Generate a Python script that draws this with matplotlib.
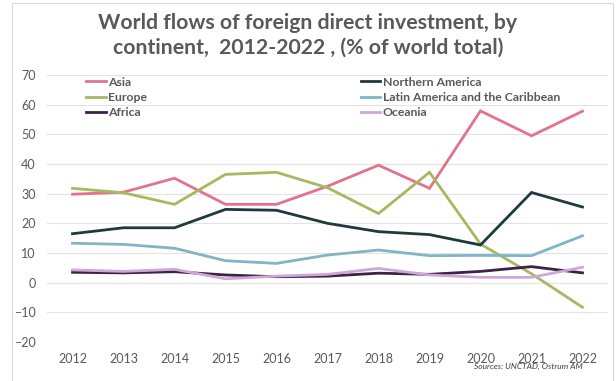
import matplotlib
matplotlib.use("Agg")
import matplotlib.pyplot as plt
from matplotlib.patches import Rectangle

plt.rcParams['font.family'] = ['Lato', 'DejaVu Sans']

years = list(range(2012, 2023))
asia = [29.8, 30.5, 35.2, 26.4, 26.4, 32.5, 39.6, 31.8, 57.9, 49.5, 57.8]
europe = [31.8, 30.3, 26.4, 36.5, 37.2, 32.0, 23.3, 37.2, 13.0, 3.0, -8.3]
africa = [3.5, 3.3, 3.7, 2.6, 2.0, 2.2, 3.2, 2.8, 3.8, 5.4, 3.3]
north_america = [16.5, 18.5, 18.5, 24.7, 24.4, 20.0, 17.2, 16.2, 12.7, 30.4, 25.5]
latin_america = [13.3, 12.9, 11.6, 7.4, 6.5, 9.3, 11.0, 9.1, 9.2, 9.1, 15.8]
oceania = [4.3, 3.8, 4.5, 1.3, 2.2, 2.8, 4.8, 2.6, 1.8, 1.8, 5.2]

series = [
    ("Asia", asia, "#E2738B"),
    ("Europe", europe, "#A8B860"),
    ("Africa", africa, "#3C2245"),
    ("Northern America", north_america, "#1E3A3C"),
    ("Latin America and the Caribbean", latin_america, "#80B4C6"),
    ("Oceania", oceania, "#CDA8D6"),
]

title = "World flows of foreign direct investment, by\ncontinent,  2012-2022 , (% of world total)"
source = "Sources: UNCTAD, Ostrum AM"
yticks = list(range(-20, 71, 10))

fig = plt.figure(figsize=(6.16, 3.81), dpi=100)
fig.patch.set_facecolor("white")
fig.add_artist(Rectangle((12 / 616, -0.01), 601 / 616, 1 - 3 / 381 + 0.01,
                         transform=fig.transFigure, fill=False,
                         edgecolor="#D9D9D9", linewidth=0.8))

ax = fig.add_axes([47 / 616, 1 - 342 / 381, (608 - 47) / 616, (342 - 75) / 381])
for name, vals, col in series:
    ax.plot(years, vals, color=col, linewidth=2.0, label=name, solid_joinstyle="miter")

ax.set_ylim(-20, 70)
ax.set_xlim(2011.5, 2022.5)
ax.set_yticks(yticks)
ax.set_xticks(years)
ax.grid(axis="y", color="#E3E3E3", linewidth=0.8)
ax.set_axisbelow(True)
for s in ax.spines.values():
    s.set_visible(False)
ax.tick_params(length=0, labelsize=9, colors="#595959")
ax.tick_params(axis="x", pad=8)
ax.tick_params(axis="y", pad=8)

leg = ax.legend(ncol=2, loc="upper left", bbox_to_anchor=(0.05, 1.035), frameon=False,
                fontsize=8.8, handlelength=1.6, handletextpad=0.2,
                columnspacing=17.5, labelspacing=0.35)
for t in leg.get_texts():
    t.set_color("#595959")
    t.set_fontweight("bold")

fig.text(0.5, 1 - 35 / 381, title, ha="center", va="center", fontsize=15.3,
         fontweight="bold", color="#595959", linespacing=1.3)
fig.text(583 / 616, 1 - 366 / 381, source, ha="right", va="center", fontsize=6,
         style="italic", color="#404040")

fig.savefig("out.png", dpi=100)
